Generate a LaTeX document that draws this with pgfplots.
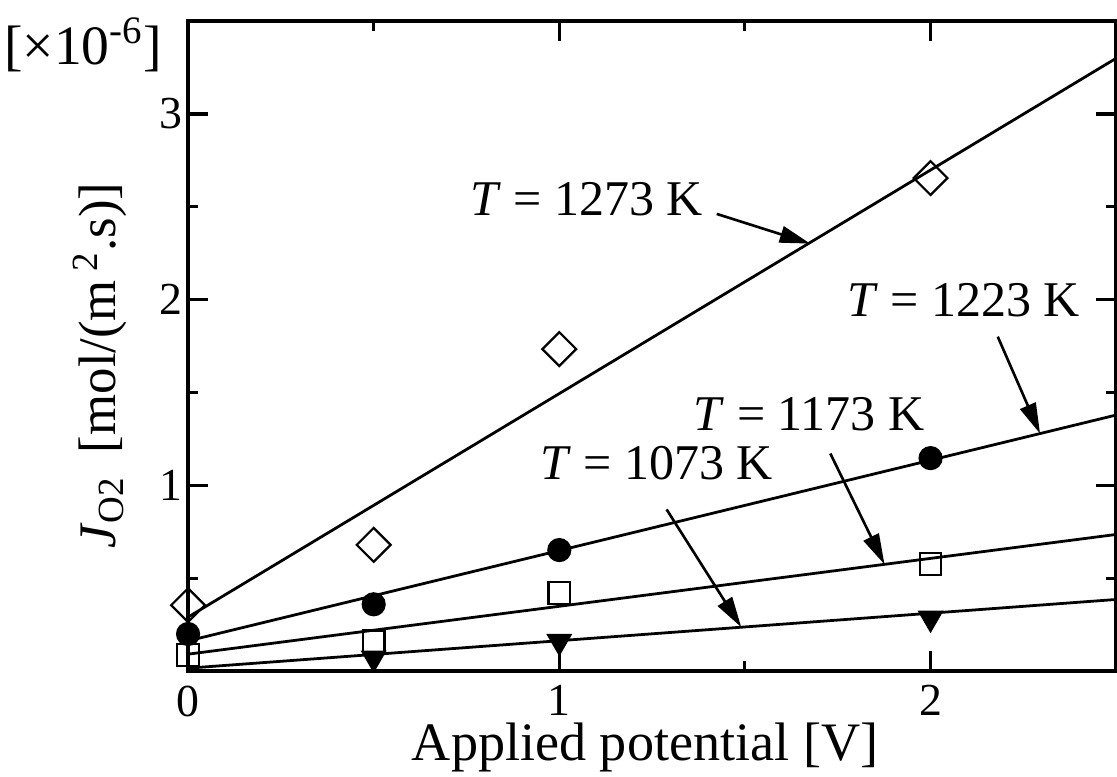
\documentclass[border=0pt]{standalone}
\usepackage{fontspec}
\setmainfont{Liberation Serif}
\usepackage{pgfplots}
\pgfplotsset{compat=1.18}
\usetikzlibrary{arrows.meta}

% Measured oxygen flux and fitted lines for four temperatures
\pgfplotstableread{
V     J
0     0.355
0.5   0.68
1     1.734
2     2.655
}\dataA
\pgfplotstableread{
V     J
0     0.20
0.5   0.36
1     0.652
2     1.147
}\dataB
\pgfplotstableread{
V     J
0     0.086
0.5   0.16
1     0.42
2     0.576
}\dataC
\pgfplotstableread{
V     J
0.5   0.07
1     0.16
2     0.285
}\dataD

\begin{document}
\begin{tikzpicture}
\useasboundingbox (-67.7pt,-37.8pt) rectangle (334.4pt,241.6pt);
\begin{axis}[
  at={(0pt,0pt)}, anchor=south west,
  scale only axis, width=334.1pt, height=234pt,
  xmin=0, xmax=2.5, ymin=0, ymax=3.5,
  xtick={0,1,2}, minor xtick={0.5,1.5},
  ytick={1,2,3}, minor ytick={0.5,1.5,2.5},
  tick align=inside,
  major tick length=7.2pt, minor tick length=3.6pt,
  axis line style={line width=1.2pt},
  every tick/.style={line width=1.1pt, black},
  tick label style={font=\fontsize{16.5}{19}\selectfont},
  xticklabel style={inner sep=0pt, yshift=-5pt},
  yticklabel style={inner sep=0pt, xshift=-2pt},
  /pgf/number format/assume math mode=true,
  xlabel={Applied potential [V]},
  xlabel style={font=\fontsize{19.5}{23}\selectfont, inner sep=0pt, at={(axis description cs:0.4925,-0.137)}, anchor=base},
  ylabel={\textit{J}\textsubscript{O2}\hspace{0.45em}[mol/(m\,\textsuperscript{2}.s)]},
  ylabel style={font=\fontsize{19}{23}\selectfont, at={(axis description cs:-0.095,0.47)}, anchor=center},
  clip=false,
]
% fitted lines
\addplot[black, line width=1pt] coordinates {(0,0.291) (2.5,3.30)};
\addplot[black, line width=1pt] coordinates {(0,0.163) (2.5,1.379)};
\addplot[black, line width=1pt] coordinates {(0,0.0915) (2.5,0.736)};
\addplot[black, line width=1pt] coordinates {(0,0.016) (2.5,0.386)};
% measurements
\addplot[only marks, mark=square, mark size=4.3pt, mark options={rotate=45, fill=white, line width=0.8pt}] table {\dataA};
\addplot[only marks, mark=*, mark size=4.1pt, mark options={fill=black, line width=0.5pt}] table {\dataB};
\addplot[only marks, mark=square, mark size=3.9pt, mark options={fill=white, line width=0.8pt}] table {\dataC};
\addplot[only marks, mark=triangle*, mark size=4.9pt, mark options={rotate=180, fill=black, line width=0.5pt}] table {\dataD};

% temperature annotations
\tikzset{lbl/.style={font=\fontsize{18}{20}\selectfont, anchor=center},
         arr/.style={line width=0.95pt, -{Triangle[length=11pt,width=6pt]}}}
\node[lbl] at (axis cs:1.073,2.543) {\textit{T} = 1273 K};
\draw[arr] (axis cs:1.424,2.462) -- (axis cs:1.676,2.302);
\node[lbl] at (axis cs:2.089,2.0) {\textit{T} = 1223 K};
\draw[arr] (axis cs:2.181,1.801) -- (axis cs:2.295,1.279);
\node[lbl] at (axis cs:1.673,1.382) {\textit{T} = 1173 K};
\draw[arr] (axis cs:1.73,1.172) -- (axis cs:1.876,0.575);
\node[lbl] at (axis cs:1.262,1.118) {\textit{T} = 1073 K};
\draw[arr] (axis cs:1.289,0.871) -- (axis cs:1.49,0.237);

\node[font=\fontsize{20}{24}\selectfont, anchor=center] at (rel axis cs:-0.113,0.963) {[×10\textsuperscript{-6}]};
\end{axis}
\end{tikzpicture}
\end{document}
